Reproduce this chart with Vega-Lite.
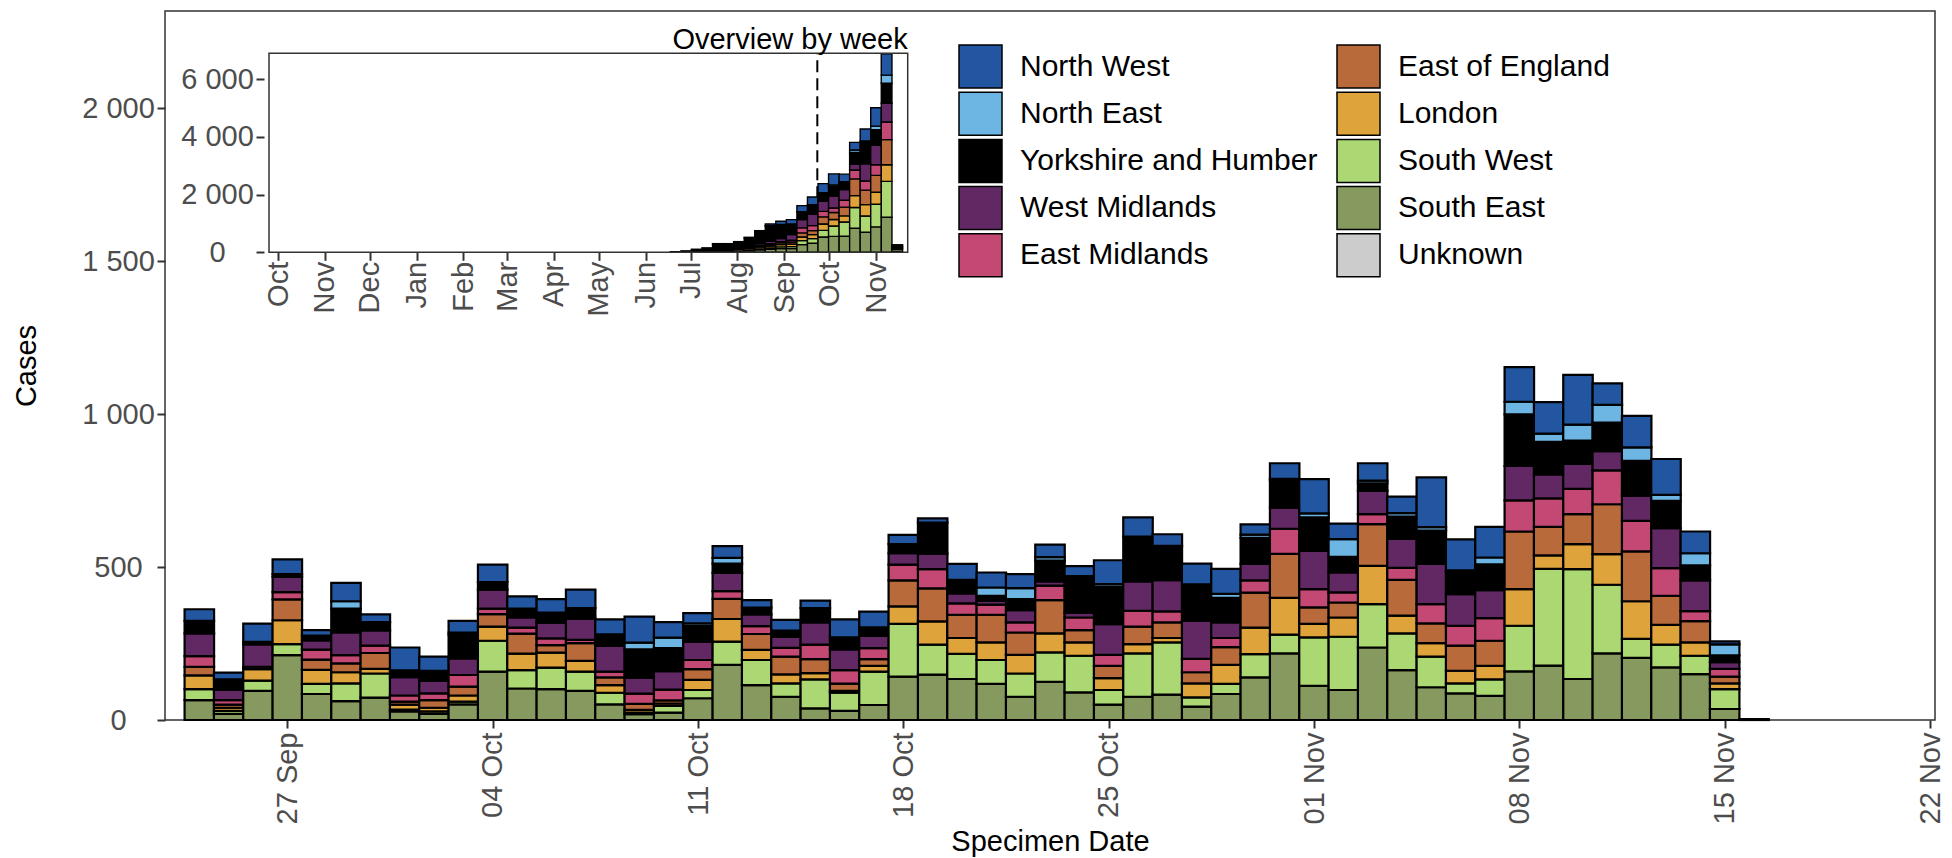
{
"$schema": "https://vega.github.io/schema/vega-lite/v6.json",
"width": 1770, "height": 709,
"autosize": {"type": "none"},
"padding": {"left": 165, "top": 11, "right": 17, "bottom": 138},
"background": "white",
"config": {
  "font": "Liberation Sans",
  "view": {"stroke": "#333333", "strokeWidth": 1.5},
  "axis": {"grid": false, "domain": false, "labelFontSize": 29, "labelColor": "#4D4D4D", "titleFontSize": 29, "titleColor": "black", "titleFontWeight": "normal", "tickColor": "#333333", "tickWidth": 2, "tickSize": 8, "labelFlush": false, "labelOverlap": false}
},
"datasets": {
"levels": [
{"region":"North West","level":1},{"region":"North East","level":2},{"region":"Yorkshire and Humber","level":3},{"region":"West Midlands","level":4},{"region":"East Midlands","level":5},{"region":"East of England","level":6},{"region":"London","level":7},{"region":"South West","level":8},{"region":"South East","level":9},{"region":"Unknown","level":10}
],
"daily": [
{"date":"2020-09-24","region":"South East","cases":65},{"date":"2020-09-24","region":"South West","cases":36},{"date":"2020-09-24","region":"London","cases":45},{"date":"2020-09-24","region":"East of England","cases":28},{"date":"2020-09-24","region":"East Midlands","cases":35},{"date":"2020-09-24","region":"West Midlands","cases":74},{"date":"2020-09-24","region":"Yorkshire and Humber","cases":41},{"date":"2020-09-24","region":"North West","cases":38},
{"date":"2020-09-25","region":"South East","cases":20},{"date":"2020-09-25","region":"South West","cases":10},{"date":"2020-09-25","region":"London","cases":10},{"date":"2020-09-25","region":"East of England","cases":10},{"date":"2020-09-25","region":"East Midlands","cases":15},{"date":"2020-09-25","region":"West Midlands","cases":33},{"date":"2020-09-25","region":"Yorkshire and Humber","cases":35},{"date":"2020-09-25","region":"North West","cases":22},
{"date":"2020-09-26","region":"South East","cases":95},{"date":"2020-09-26","region":"South West","cases":34},{"date":"2020-09-26","region":"London","cases":37},{"date":"2020-09-26","region":"East Midlands","cases":8},{"date":"2020-09-26","region":"West Midlands","cases":73},{"date":"2020-09-26","region":"Yorkshire and Humber","cases":8},{"date":"2020-09-26","region":"North West","cases":60},
{"date":"2020-09-27","region":"South East","cases":212},{"date":"2020-09-27","region":"South West","cases":36},{"date":"2020-09-27","region":"London","cases":78},{"date":"2020-09-27","region":"East of England","cases":68},{"date":"2020-09-27","region":"East Midlands","cases":24},{"date":"2020-09-27","region":"West Midlands","cases":50},{"date":"2020-09-27","region":"Yorkshire and Humber","cases":9},{"date":"2020-09-27","region":"North West","cases":48},
{"date":"2020-09-28","region":"South East","cases":85},{"date":"2020-09-28","region":"South West","cases":33},{"date":"2020-09-28","region":"London","cases":46},{"date":"2020-09-28","region":"East of England","cases":33},{"date":"2020-09-28","region":"East Midlands","cases":33},{"date":"2020-09-28","region":"West Midlands","cases":30},{"date":"2020-09-28","region":"Yorkshire and Humber","cases":16},{"date":"2020-09-28","region":"North West","cases":18},
{"date":"2020-09-29","region":"South East","cases":62},{"date":"2020-09-29","region":"South West","cases":58},{"date":"2020-09-29","region":"London","cases":36},{"date":"2020-09-29","region":"East of England","cases":29},{"date":"2020-09-29","region":"East Midlands","cases":27},{"date":"2020-09-29","region":"West Midlands","cases":74},{"date":"2020-09-29","region":"Yorkshire and Humber","cases":78},{"date":"2020-09-29","region":"North East","cases":24},{"date":"2020-09-29","region":"North West","cases":60},
{"date":"2020-09-30","region":"South East","cases":73},{"date":"2020-09-30","region":"South West","cases":79},{"date":"2020-09-30","region":"London","cases":15},{"date":"2020-09-30","region":"East of England","cases":52},{"date":"2020-09-30","region":"East Midlands","cases":24},{"date":"2020-09-30","region":"West Midlands","cases":50},{"date":"2020-09-30","region":"Yorkshire and Humber","cases":27},{"date":"2020-09-30","region":"North West","cases":25},
{"date":"2020-10-01","region":"South East","cases":28},{"date":"2020-10-01","region":"South West","cases":6},{"date":"2020-10-01","region":"London","cases":16},{"date":"2020-10-01","region":"East of England","cases":10},{"date":"2020-10-01","region":"East Midlands","cases":20},{"date":"2020-10-01","region":"West Midlands","cases":60},{"date":"2020-10-01","region":"Yorkshire and Humber","cases":22},{"date":"2020-10-01","region":"North West","cases":75},
{"date":"2020-10-02","region":"South East","cases":20},{"date":"2020-10-02","region":"South West","cases":8},{"date":"2020-10-02","region":"London","cases":12},{"date":"2020-10-02","region":"East of England","cases":25},{"date":"2020-10-02","region":"East Midlands","cases":22},{"date":"2020-10-02","region":"West Midlands","cases":41},{"date":"2020-10-02","region":"Yorkshire and Humber","cases":33},{"date":"2020-10-02","region":"North West","cases":46},
{"date":"2020-10-03","region":"South East","cases":51},{"date":"2020-10-03","region":"South West","cases":9},{"date":"2020-10-03","region":"London","cases":20},{"date":"2020-10-03","region":"East of England","cases":29},{"date":"2020-10-03","region":"East Midlands","cases":38},{"date":"2020-10-03","region":"West Midlands","cases":54},{"date":"2020-10-03","region":"Yorkshire and Humber","cases":78},{"date":"2020-10-03","region":"North East","cases":7},{"date":"2020-10-03","region":"North West","cases":38},
{"date":"2020-10-04","region":"South East","cases":158},{"date":"2020-10-04","region":"South West","cases":101},{"date":"2020-10-04","region":"London","cases":46},{"date":"2020-10-04","region":"East of England","cases":41},{"date":"2020-10-04","region":"East Midlands","cases":18},{"date":"2020-10-04","region":"West Midlands","cases":62},{"date":"2020-10-04","region":"Yorkshire and Humber","cases":25},{"date":"2020-10-04","region":"North West","cases":57},
{"date":"2020-10-05","region":"South East","cases":103},{"date":"2020-10-05","region":"South West","cases":60},{"date":"2020-10-05","region":"London","cases":54},{"date":"2020-10-05","region":"East of England","cases":65},{"date":"2020-10-05","region":"East Midlands","cases":20},{"date":"2020-10-05","region":"West Midlands","cases":33},{"date":"2020-10-05","region":"Yorkshire and Humber","cases":29},{"date":"2020-10-05","region":"North West","cases":40},
{"date":"2020-10-06","region":"South East","cases":101},{"date":"2020-10-06","region":"South West","cases":70},{"date":"2020-10-06","region":"London","cases":49},{"date":"2020-10-06","region":"East of England","cases":25},{"date":"2020-10-06","region":"East Midlands","cases":22},{"date":"2020-10-06","region":"West Midlands","cases":51},{"date":"2020-10-06","region":"Yorkshire and Humber","cases":33},{"date":"2020-10-06","region":"North West","cases":44},
{"date":"2020-10-07","region":"South East","cases":95},{"date":"2020-10-07","region":"South West","cases":63},{"date":"2020-10-07","region":"London","cases":35},{"date":"2020-10-07","region":"East of England","cases":58},{"date":"2020-10-07","region":"East Midlands","cases":11},{"date":"2020-10-07","region":"West Midlands","cases":69},{"date":"2020-10-07","region":"Yorkshire and Humber","cases":35},{"date":"2020-10-07","region":"North West","cases":60},
{"date":"2020-10-08","region":"South East","cases":51},{"date":"2020-10-08","region":"South West","cases":38},{"date":"2020-10-08","region":"London","cases":25},{"date":"2020-10-08","region":"East of England","cases":25},{"date":"2020-10-08","region":"East Midlands","cases":19},{"date":"2020-10-08","region":"West Midlands","cases":84},{"date":"2020-10-08","region":"Yorkshire and Humber","cases":38},{"date":"2020-10-08","region":"North West","cases":49},
{"date":"2020-10-09","region":"South East","cases":19},{"date":"2020-10-09","region":"South West","cases":5},{"date":"2020-10-09","region":"London","cases":9},{"date":"2020-10-09","region":"East of England","cases":20},{"date":"2020-10-09","region":"East Midlands","cases":33},{"date":"2020-10-09","region":"West Midlands","cases":52},{"date":"2020-10-09","region":"Yorkshire and Humber","cases":93},{"date":"2020-10-09","region":"North East","cases":22},{"date":"2020-10-09","region":"North West","cases":85},
{"date":"2020-10-10","region":"South East","cases":24},{"date":"2020-10-10","region":"South West","cases":22},{"date":"2020-10-10","region":"London","cases":8},{"date":"2020-10-10","region":"East of England","cases":10},{"date":"2020-10-10","region":"East Midlands","cases":35},{"date":"2020-10-10","region":"West Midlands","cases":61},{"date":"2020-10-10","region":"Yorkshire and Humber","cases":75},{"date":"2020-10-10","region":"North East","cases":34},{"date":"2020-10-10","region":"North West","cases":51},
{"date":"2020-10-11","region":"South East","cases":71},{"date":"2020-10-11","region":"South West","cases":27},{"date":"2020-10-11","region":"London","cases":33},{"date":"2020-10-11","region":"East of England","cases":35},{"date":"2020-10-11","region":"East Midlands","cases":30},{"date":"2020-10-11","region":"West Midlands","cases":60},{"date":"2020-10-11","region":"Yorkshire and Humber","cases":51},{"date":"2020-10-11","region":"North East","cases":9},{"date":"2020-10-11","region":"North West","cases":33},
{"date":"2020-10-12","region":"South East","cases":180},{"date":"2020-10-12","region":"South West","cases":76},{"date":"2020-10-12","region":"London","cases":74},{"date":"2020-10-12","region":"East of England","cases":66},{"date":"2020-10-12","region":"East Midlands","cases":25},{"date":"2020-10-12","region":"West Midlands","cases":60},{"date":"2020-10-12","region":"Yorkshire and Humber","cases":30},{"date":"2020-10-12","region":"North East","cases":19},{"date":"2020-10-12","region":"North West","cases":38},
{"date":"2020-10-13","region":"South East","cases":114},{"date":"2020-10-13","region":"South West","cases":82},{"date":"2020-10-13","region":"London","cases":33},{"date":"2020-10-13","region":"East of England","cases":52},{"date":"2020-10-13","region":"East Midlands","cases":26},{"date":"2020-10-13","region":"West Midlands","cases":38},{"date":"2020-10-13","region":"Yorkshire and Humber","cases":22},{"date":"2020-10-13","region":"North West","cases":25},
{"date":"2020-10-14","region":"South East","cases":76},{"date":"2020-10-14","region":"South West","cases":44},{"date":"2020-10-14","region":"London","cases":29},{"date":"2020-10-14","region":"East of England","cases":58},{"date":"2020-10-14","region":"East Midlands","cases":29},{"date":"2020-10-14","region":"West Midlands","cases":36},{"date":"2020-10-14","region":"Yorkshire and Humber","cases":20},{"date":"2020-10-14","region":"North West","cases":35},
{"date":"2020-10-15","region":"South East","cases":38},{"date":"2020-10-15","region":"South West","cases":95},{"date":"2020-10-15","region":"London","cases":20},{"date":"2020-10-15","region":"East of England","cases":46},{"date":"2020-10-15","region":"East Midlands","cases":47},{"date":"2020-10-15","region":"West Midlands","cases":73},{"date":"2020-10-15","region":"Yorkshire and Humber","cases":47},{"date":"2020-10-15","region":"North West","cases":24},
{"date":"2020-10-16","region":"South East","cases":30},{"date":"2020-10-16","region":"South West","cases":59},{"date":"2020-10-16","region":"London","cases":6},{"date":"2020-10-16","region":"East of England","cases":24},{"date":"2020-10-16","region":"East Midlands","cases":44},{"date":"2020-10-16","region":"West Midlands","cases":68},{"date":"2020-10-16","region":"Yorkshire and Humber","cases":39},{"date":"2020-10-16","region":"North West","cases":59},
{"date":"2020-10-17","region":"South East","cases":49},{"date":"2020-10-17","region":"South West","cases":109},{"date":"2020-10-17","region":"London","cases":19},{"date":"2020-10-17","region":"East of England","cases":22},{"date":"2020-10-17","region":"East Midlands","cases":36},{"date":"2020-10-17","region":"West Midlands","cases":40},{"date":"2020-10-17","region":"Yorkshire and Humber","cases":28},{"date":"2020-10-17","region":"North West","cases":51},
{"date":"2020-10-18","region":"South East","cases":142},{"date":"2020-10-18","region":"South West","cases":172},{"date":"2020-10-18","region":"London","cases":57},{"date":"2020-10-18","region":"East of England","cases":85},{"date":"2020-10-18","region":"East Midlands","cases":52},{"date":"2020-10-18","region":"West Midlands","cases":37},{"date":"2020-10-18","region":"Yorkshire and Humber","cases":30},{"date":"2020-10-18","region":"North West","cases":30},
{"date":"2020-10-19","region":"South East","cases":148},{"date":"2020-10-19","region":"South West","cases":98},{"date":"2020-10-19","region":"London","cases":76},{"date":"2020-10-19","region":"East of England","cases":108},{"date":"2020-10-19","region":"East Midlands","cases":63},{"date":"2020-10-19","region":"West Midlands","cases":51},{"date":"2020-10-19","region":"Yorkshire and Humber","cases":101},{"date":"2020-10-19","region":"North West","cases":14},
{"date":"2020-10-20","region":"South East","cases":134},{"date":"2020-10-20","region":"South West","cases":82},{"date":"2020-10-20","region":"London","cases":52},{"date":"2020-10-20","region":"East of England","cases":76},{"date":"2020-10-20","region":"East Midlands","cases":37},{"date":"2020-10-20","region":"West Midlands","cases":33},{"date":"2020-10-20","region":"Yorkshire and Humber","cases":44},{"date":"2020-10-20","region":"North West","cases":52},
{"date":"2020-10-21","region":"South East","cases":118},{"date":"2020-10-21","region":"South West","cases":78},{"date":"2020-10-21","region":"London","cases":58},{"date":"2020-10-21","region":"East of England","cases":90},{"date":"2020-10-21","region":"East Midlands","cases":33},{"date":"2020-10-21","region":"West Midlands","cases":13},{"date":"2020-10-21","region":"Yorkshire and Humber","cases":16},{"date":"2020-10-21","region":"North East","cases":27},{"date":"2020-10-21","region":"North West","cases":49},
{"date":"2020-10-22","region":"South East","cases":76},{"date":"2020-10-22","region":"South West","cases":76},{"date":"2020-10-22","region":"London","cases":61},{"date":"2020-10-22","region":"East of England","cases":73},{"date":"2020-10-22","region":"East Midlands","cases":33},{"date":"2020-10-22","region":"West Midlands","cases":40},{"date":"2020-10-22","region":"Yorkshire and Humber","cases":36},{"date":"2020-10-22","region":"North East","cases":36},{"date":"2020-10-22","region":"North West","cases":46},
{"date":"2020-10-23","region":"South East","cases":125},{"date":"2020-10-23","region":"South West","cases":96},{"date":"2020-10-23","region":"London","cases":62},{"date":"2020-10-23","region":"East of England","cases":109},{"date":"2020-10-23","region":"East Midlands","cases":47},{"date":"2020-10-23","region":"West Midlands","cases":14},{"date":"2020-10-23","region":"Yorkshire and Humber","cases":68},{"date":"2020-10-23","region":"North East","cases":11},{"date":"2020-10-23","region":"North West","cases":41},
{"date":"2020-10-24","region":"South East","cases":90},{"date":"2020-10-24","region":"South West","cases":120},{"date":"2020-10-24","region":"London","cases":44},{"date":"2020-10-24","region":"East of England","cases":40},{"date":"2020-10-24","region":"East Midlands","cases":41},{"date":"2020-10-24","region":"West Midlands","cases":16},{"date":"2020-10-24","region":"Yorkshire and Humber","cases":114},{"date":"2020-10-24","region":"North East","cases":5},{"date":"2020-10-24","region":"North West","cases":33},
{"date":"2020-10-25","region":"South East","cases":50},{"date":"2020-10-25","region":"South West","cases":48},{"date":"2020-10-25","region":"London","cases":39},{"date":"2020-10-25","region":"East of England","cases":40},{"date":"2020-10-25","region":"East Midlands","cases":36},{"date":"2020-10-25","region":"West Midlands","cases":100},{"date":"2020-10-25","region":"Yorkshire and Humber","cases":122},{"date":"2020-10-25","region":"North East","cases":9},{"date":"2020-10-25","region":"North West","cases":78},
{"date":"2020-10-26","region":"South East","cases":76},{"date":"2020-10-26","region":"South West","cases":142},{"date":"2020-10-26","region":"London","cases":30},{"date":"2020-10-26","region":"East of England","cases":57},{"date":"2020-10-26","region":"East Midlands","cases":52},{"date":"2020-10-26","region":"West Midlands","cases":96},{"date":"2020-10-26","region":"Yorkshire and Humber","cases":146},{"date":"2020-10-26","region":"North West","cases":63},
{"date":"2020-10-27","region":"South East","cases":83},{"date":"2020-10-27","region":"South West","cases":171},{"date":"2020-10-27","region":"London","cases":14},{"date":"2020-10-27","region":"East of England","cases":51},{"date":"2020-10-27","region":"East Midlands","cases":36},{"date":"2020-10-27","region":"West Midlands","cases":102},{"date":"2020-10-27","region":"Yorkshire and Humber","cases":112},{"date":"2020-10-27","region":"North West","cases":38},
{"date":"2020-10-28","region":"South East","cases":44},{"date":"2020-10-28","region":"South West","cases":30},{"date":"2020-10-28","region":"London","cases":46},{"date":"2020-10-28","region":"East of England","cases":36},{"date":"2020-10-28","region":"East Midlands","cases":44},{"date":"2020-10-28","region":"West Midlands","cases":125},{"date":"2020-10-28","region":"Yorkshire and Humber","cases":118},{"date":"2020-10-28","region":"North West","cases":68},
{"date":"2020-10-29","region":"South East","cases":85},{"date":"2020-10-29","region":"South West","cases":33},{"date":"2020-10-29","region":"London","cases":62},{"date":"2020-10-29","region":"East of England","cases":58},{"date":"2020-10-29","region":"East Midlands","cases":30},{"date":"2020-10-29","region":"West Midlands","cases":51},{"date":"2020-10-29","region":"Yorkshire and Humber","cases":80},{"date":"2020-10-29","region":"North East","cases":13},{"date":"2020-10-29","region":"North West","cases":82},
{"date":"2020-10-30","region":"South East","cases":139},{"date":"2020-10-30","region":"South West","cases":76},{"date":"2020-10-30","region":"London","cases":87},{"date":"2020-10-30","region":"East of England","cases":114},{"date":"2020-10-30","region":"East Midlands","cases":40},{"date":"2020-10-30","region":"West Midlands","cases":54},{"date":"2020-10-30","region":"Yorkshire and Humber","cases":85},{"date":"2020-10-30","region":"North East","cases":11},{"date":"2020-10-30","region":"North West","cases":33},
{"date":"2020-10-31","region":"South East","cases":218},{"date":"2020-10-31","region":"South West","cases":61},{"date":"2020-10-31","region":"London","cases":120},{"date":"2020-10-31","region":"East of England","cases":144},{"date":"2020-10-31","region":"East Midlands","cases":82},{"date":"2020-10-31","region":"West Midlands","cases":69},{"date":"2020-10-31","region":"Yorkshire and Humber","cases":89},{"date":"2020-10-31","region":"North East","cases":5},{"date":"2020-10-31","region":"North West","cases":51},
{"date":"2020-11-01","region":"South East","cases":112},{"date":"2020-11-01","region":"South West","cases":158},{"date":"2020-11-01","region":"London","cases":44},{"date":"2020-11-01","region":"East of England","cases":54},{"date":"2020-11-01","region":"East Midlands","cases":60},{"date":"2020-11-01","region":"West Midlands","cases":125},{"date":"2020-11-01","region":"Yorkshire and Humber","cases":109},{"date":"2020-11-01","region":"North East","cases":13},{"date":"2020-11-01","region":"North West","cases":112},
{"date":"2020-11-02","region":"South East","cases":98},{"date":"2020-11-02","region":"South West","cases":174},{"date":"2020-11-02","region":"London","cases":63},{"date":"2020-11-02","region":"East of England","cases":49},{"date":"2020-11-02","region":"East Midlands","cases":33},{"date":"2020-11-02","region":"West Midlands","cases":65},{"date":"2020-11-02","region":"Yorkshire and Humber","cases":51},{"date":"2020-11-02","region":"North East","cases":58},{"date":"2020-11-02","region":"North West","cases":51},
{"date":"2020-11-03","region":"South East","cases":237},{"date":"2020-11-03","region":"South West","cases":142},{"date":"2020-11-03","region":"London","cases":125},{"date":"2020-11-03","region":"East of England","cases":136},{"date":"2020-11-03","region":"East Midlands","cases":33},{"date":"2020-11-03","region":"West Midlands","cases":76},{"date":"2020-11-03","region":"Yorkshire and Humber","cases":24},{"date":"2020-11-03","region":"North East","cases":9},{"date":"2020-11-03","region":"North West","cases":57},
{"date":"2020-11-04","region":"South East","cases":163},{"date":"2020-11-04","region":"South West","cases":120},{"date":"2020-11-04","region":"London","cases":58},{"date":"2020-11-04","region":"East of England","cases":117},{"date":"2020-11-04","region":"East Midlands","cases":39},{"date":"2020-11-04","region":"West Midlands","cases":95},{"date":"2020-11-04","region":"Yorkshire and Humber","cases":73},{"date":"2020-11-04","region":"North East","cases":11},{"date":"2020-11-04","region":"North West","cases":54},
{"date":"2020-11-05","region":"South East","cases":107},{"date":"2020-11-05","region":"South West","cases":100},{"date":"2020-11-05","region":"London","cases":44},{"date":"2020-11-05","region":"East of England","cases":65},{"date":"2020-11-05","region":"East Midlands","cases":63},{"date":"2020-11-05","region":"West Midlands","cases":131},{"date":"2020-11-05","region":"Yorkshire and Humber","cases":109},{"date":"2020-11-05","region":"North East","cases":11},{"date":"2020-11-05","region":"North West","cases":163},
{"date":"2020-11-06","region":"South East","cases":87},{"date":"2020-11-06","region":"South West","cases":33},{"date":"2020-11-06","region":"London","cases":41},{"date":"2020-11-06","region":"East of England","cases":82},{"date":"2020-11-06","region":"East Midlands","cases":65},{"date":"2020-11-06","region":"West Midlands","cases":103},{"date":"2020-11-06","region":"Yorkshire and Humber","cases":74},{"date":"2020-11-06","region":"North East","cases":4},{"date":"2020-11-06","region":"North West","cases":101},
{"date":"2020-11-07","region":"South East","cases":79},{"date":"2020-11-07","region":"South West","cases":54},{"date":"2020-11-07","region":"London","cases":44},{"date":"2020-11-07","region":"East of England","cases":82},{"date":"2020-11-07","region":"East Midlands","cases":74},{"date":"2020-11-07","region":"West Midlands","cases":91},{"date":"2020-11-07","region":"Yorkshire and Humber","cases":85},{"date":"2020-11-07","region":"North East","cases":22},{"date":"2020-11-07","region":"North West","cases":100},
{"date":"2020-11-08","region":"South East","cases":159},{"date":"2020-11-08","region":"South West","cases":149},{"date":"2020-11-08","region":"London","cases":120},{"date":"2020-11-08","region":"East of England","cases":188},{"date":"2020-11-08","region":"East Midlands","cases":102},{"date":"2020-11-08","region":"West Midlands","cases":112},{"date":"2020-11-08","region":"Yorkshire and Humber","cases":169},{"date":"2020-11-08","region":"North East","cases":41},{"date":"2020-11-08","region":"North West","cases":113},
{"date":"2020-11-09","region":"South East","cases":178},{"date":"2020-11-09","region":"South West","cases":316},{"date":"2020-11-09","region":"London","cases":44},{"date":"2020-11-09","region":"East of England","cases":93},{"date":"2020-11-09","region":"East Midlands","cases":93},{"date":"2020-11-09","region":"West Midlands","cases":79},{"date":"2020-11-09","region":"Yorkshire and Humber","cases":106},{"date":"2020-11-09","region":"North East","cases":27},{"date":"2020-11-09","region":"North West","cases":103},
{"date":"2020-11-10","region":"South East","cases":134},{"date":"2020-11-10","region":"South West","cases":359},{"date":"2020-11-10","region":"London","cases":82},{"date":"2020-11-10","region":"East of England","cases":98},{"date":"2020-11-10","region":"East Midlands","cases":82},{"date":"2020-11-10","region":"West Midlands","cases":82},{"date":"2020-11-10","region":"Yorkshire and Humber","cases":76},{"date":"2020-11-10","region":"North East","cases":52},{"date":"2020-11-10","region":"North West","cases":163},
{"date":"2020-11-11","region":"South East","cases":218},{"date":"2020-11-11","region":"South West","cases":224},{"date":"2020-11-11","region":"London","cases":100},{"date":"2020-11-11","region":"East of England","cases":163},{"date":"2020-11-11","region":"East Midlands","cases":111},{"date":"2020-11-11","region":"West Midlands","cases":63},{"date":"2020-11-11","region":"Yorkshire and Humber","cases":93},{"date":"2020-11-11","region":"North East","cases":58},{"date":"2020-11-11","region":"North West","cases":70},
{"date":"2020-11-12","region":"South East","cases":203},{"date":"2020-11-12","region":"South West","cases":62},{"date":"2020-11-12","region":"London","cases":123},{"date":"2020-11-12","region":"East of England","cases":163},{"date":"2020-11-12","region":"East Midlands","cases":100},{"date":"2020-11-12","region":"West Midlands","cases":82},{"date":"2020-11-12","region":"Yorkshire and Humber","cases":114},{"date":"2020-11-12","region":"North East","cases":44},{"date":"2020-11-12","region":"North West","cases":103},
{"date":"2020-11-13","region":"South East","cases":172},{"date":"2020-11-13","region":"South West","cases":74},{"date":"2020-11-13","region":"London","cases":65},{"date":"2020-11-13","region":"East of England","cases":95},{"date":"2020-11-13","region":"East Midlands","cases":90},{"date":"2020-11-13","region":"West Midlands","cases":131},{"date":"2020-11-13","region":"Yorkshire and Humber","cases":89},{"date":"2020-11-13","region":"North East","cases":20},{"date":"2020-11-13","region":"North West","cases":117},
{"date":"2020-11-14","region":"South East","cases":150},{"date":"2020-11-14","region":"South West","cases":60},{"date":"2020-11-14","region":"London","cases":44},{"date":"2020-11-14","region":"East of England","cases":69},{"date":"2020-11-14","region":"East Midlands","cases":33},{"date":"2020-11-14","region":"West Midlands","cases":100},{"date":"2020-11-14","region":"Yorkshire and Humber","cases":49},{"date":"2020-11-14","region":"North East","cases":40},{"date":"2020-11-14","region":"North West","cases":71},
{"date":"2020-11-15","region":"South East","cases":36},{"date":"2020-11-15","region":"South West","cases":65},{"date":"2020-11-15","region":"London","cases":19},{"date":"2020-11-15","region":"East of England","cases":22},{"date":"2020-11-15","region":"East Midlands","cases":25},{"date":"2020-11-15","region":"West Midlands","cases":22},{"date":"2020-11-15","region":"Yorkshire and Humber","cases":22},{"date":"2020-11-15","region":"North East","cases":36},{"date":"2020-11-15","region":"North West","cases":10},
{"date":"2020-11-16","region":"South East","cases":1},{"date":"2020-11-16","region":"Yorkshire and Humber","cases":1},{"date":"2020-11-16","region":"North West","cases":1}
],
"weekly": [
{"week":"2020-06-21","region":"London","cases":5},{"week":"2020-06-21","region":"Yorkshire and Humber","cases":15},
{"week":"2020-06-28","region":"South East","cases":5},{"week":"2020-06-28","region":"London","cases":5},{"week":"2020-06-28","region":"Yorkshire and Humber","cases":40},
{"week":"2020-07-05","region":"South East","cases":5},{"week":"2020-07-05","region":"London","cases":15},{"week":"2020-07-05","region":"East of England","cases":5},{"week":"2020-07-05","region":"West Midlands","cases":5},{"week":"2020-07-05","region":"Yorkshire and Humber","cases":65},{"week":"2020-07-05","region":"North West","cases":5},
{"week":"2020-07-12","region":"South East","cases":10},{"week":"2020-07-12","region":"London","cases":20},{"week":"2020-07-12","region":"East of England","cases":10},{"week":"2020-07-12","region":"West Midlands","cases":10},{"week":"2020-07-12","region":"Yorkshire and Humber","cases":95},{"week":"2020-07-12","region":"North West","cases":5},
{"week":"2020-07-19","region":"South East","cases":15},{"week":"2020-07-19","region":"South West","cases":5},{"week":"2020-07-19","region":"London","cases":40},{"week":"2020-07-19","region":"East of England","cases":15},{"week":"2020-07-19","region":"East Midlands","cases":10},{"week":"2020-07-19","region":"West Midlands","cases":15},{"week":"2020-07-19","region":"Yorkshire and Humber","cases":190},{"week":"2020-07-19","region":"North West","cases":10},
{"week":"2020-07-26","region":"South East","cases":15},{"week":"2020-07-26","region":"South West","cases":5},{"week":"2020-07-26","region":"London","cases":45},{"week":"2020-07-26","region":"East of England","cases":15},{"week":"2020-07-26","region":"East Midlands","cases":10},{"week":"2020-07-26","region":"West Midlands","cases":15},{"week":"2020-07-26","region":"Yorkshire and Humber","cases":185},{"week":"2020-07-26","region":"North West","cases":10},
{"week":"2020-08-02","region":"South East","cases":20},{"week":"2020-08-02","region":"South West","cases":5},{"week":"2020-08-02","region":"London","cases":60},{"week":"2020-08-02","region":"East of England","cases":20},{"week":"2020-08-02","region":"East Midlands","cases":10},{"week":"2020-08-02","region":"West Midlands","cases":20},{"week":"2020-08-02","region":"Yorkshire and Humber","cases":220},{"week":"2020-08-02","region":"North West","cases":15},
{"week":"2020-08-09","region":"South East","cases":60},{"week":"2020-08-09","region":"South West","cases":10},{"week":"2020-08-09","region":"London","cases":60},{"week":"2020-08-09","region":"East of England","cases":30},{"week":"2020-08-09","region":"East Midlands","cases":10},{"week":"2020-08-09","region":"West Midlands","cases":30},{"week":"2020-08-09","region":"Yorkshire and Humber","cases":300},{"week":"2020-08-09","region":"North West","cases":20},
{"week":"2020-08-16","region":"South East","cases":90},{"week":"2020-08-16","region":"South West","cases":30},{"week":"2020-08-16","region":"London","cases":60},{"week":"2020-08-16","region":"East of England","cases":40},{"week":"2020-08-16","region":"East Midlands","cases":20},{"week":"2020-08-16","region":"West Midlands","cases":60},{"week":"2020-08-16","region":"Yorkshire and Humber","cases":420},{"week":"2020-08-16","region":"North West","cases":30},
{"week":"2020-08-23","region":"South East","cases":100},{"week":"2020-08-23","region":"South West","cases":50},{"week":"2020-08-23","region":"London","cases":70},{"week":"2020-08-23","region":"East of England","cases":50},{"week":"2020-08-23","region":"East Midlands","cases":30},{"week":"2020-08-23","region":"West Midlands","cases":80},{"week":"2020-08-23","region":"Yorkshire and Humber","cases":532},{"week":"2020-08-23","region":"North East","cases":10},{"week":"2020-08-23","region":"North West","cases":60},
{"week":"2020-08-30","region":"South East","cases":127},{"week":"2020-08-30","region":"South West","cases":60},{"week":"2020-08-30","region":"London","cases":80},{"week":"2020-08-30","region":"East of England","cases":60},{"week":"2020-08-30","region":"East Midlands","cases":40},{"week":"2020-08-30","region":"West Midlands","cases":110},{"week":"2020-08-30","region":"Yorkshire and Humber","cases":480},{"week":"2020-08-30","region":"North East","cases":10},{"week":"2020-08-30","region":"North West","cases":107},
{"week":"2020-09-06","region":"South East","cases":127},{"week":"2020-09-06","region":"South West","cases":70},{"week":"2020-09-06","region":"London","cases":90},{"week":"2020-09-06","region":"East of England","cases":70},{"week":"2020-09-06","region":"East Midlands","cases":60},{"week":"2020-09-06","region":"West Midlands","cases":200},{"week":"2020-09-06","region":"Yorkshire and Humber","cases":350},{"week":"2020-09-06","region":"North East","cases":15},{"week":"2020-09-06","region":"North West","cases":150},
{"week":"2020-09-13","region":"South East","cases":265},{"week":"2020-09-13","region":"South West","cases":140},{"week":"2020-09-13","region":"London","cases":127},{"week":"2020-09-13","region":"East of England","cases":140},{"week":"2020-09-13","region":"East Midlands","cases":173},{"week":"2020-09-13","region":"West Midlands","cases":290},{"week":"2020-09-13","region":"Yorkshire and Humber","cases":254},{"week":"2020-09-13","region":"North East","cases":20},{"week":"2020-09-13","region":"North West","cases":208},
{"week":"2020-09-20","region":"South East","cases":312},{"week":"2020-09-20","region":"South West","cases":162},{"week":"2020-09-20","region":"London","cases":139},{"week":"2020-09-20","region":"East of England","cases":139},{"week":"2020-09-20","region":"East Midlands","cases":173},{"week":"2020-09-20","region":"West Midlands","cases":404},{"week":"2020-09-20","region":"Yorkshire and Humber","cases":300},{"week":"2020-09-20","region":"North East","cases":23},{"week":"2020-09-20","region":"North West","cases":266},
{"week":"2020-09-27","region":"South East","cases":531},{"week":"2020-09-27","region":"South West","cases":229},{"week":"2020-09-27","region":"London","cases":223},{"week":"2020-09-27","region":"East of England","cases":246},{"week":"2020-09-27","region":"East Midlands","cases":188},{"week":"2020-09-27","region":"West Midlands","cases":359},{"week":"2020-09-27","region":"Yorkshire and Humber","cases":263},{"week":"2020-09-27","region":"North East","cases":31},{"week":"2020-09-27","region":"North West","cases":310},
{"week":"2020-10-04","region":"South East","cases":551},{"week":"2020-10-04","region":"South West","cases":359},{"week":"2020-10-04","region":"London","cases":226},{"week":"2020-10-04","region":"East of England","cases":244},{"week":"2020-10-04","region":"East Midlands","cases":158},{"week":"2020-10-04","region":"West Midlands","cases":412},{"week":"2020-10-04","region":"Yorkshire and Humber","cases":328},{"week":"2020-10-04","region":"North East","cases":56},{"week":"2020-10-04","region":"North West","cases":386},
{"week":"2020-10-11","region":"South East","cases":558},{"week":"2020-10-11","region":"South West","cases":492},{"week":"2020-10-11","region":"London","cases":214},{"week":"2020-10-11","region":"East of England","cases":303},{"week":"2020-10-11","region":"East Midlands","cases":237},{"week":"2020-10-11","region":"West Midlands","cases":375},{"week":"2020-10-11","region":"Yorkshire and Humber","cases":237},{"week":"2020-10-11","region":"North East","cases":28},{"week":"2020-10-11","region":"North West","cases":265},
{"week":"2020-10-18","region":"South East","cases":833},{"week":"2020-10-18","region":"South West","cases":722},{"week":"2020-10-18","region":"London","cases":410},{"week":"2020-10-18","region":"East of England","cases":581},{"week":"2020-10-18","region":"East Midlands","cases":306},{"week":"2020-10-18","region":"West Midlands","cases":204},{"week":"2020-10-18","region":"Yorkshire and Humber","cases":409},{"week":"2020-10-18","region":"North East","cases":79},{"week":"2020-10-18","region":"North West","cases":265},
{"week":"2020-10-25","region":"South East","cases":695},{"week":"2020-10-25","region":"South West","cases":561},{"week":"2020-10-25","region":"London","cases":398},{"week":"2020-10-25","region":"East of England","cases":500},{"week":"2020-10-25","region":"East Midlands","cases":320},{"week":"2020-10-25","region":"West Midlands","cases":597},{"week":"2020-10-25","region":"Yorkshire and Humber","cases":752},{"week":"2020-10-25","region":"North East","cases":38},{"week":"2020-10-25","region":"North West","cases":413},
{"week":"2020-11-01","region":"South East","cases":883},{"week":"2020-11-01","region":"South West","cases":781},{"week":"2020-11-01","region":"London","cases":419},{"week":"2020-11-01","region":"East of England","cases":585},{"week":"2020-11-01","region":"East Midlands","cases":367},{"week":"2020-11-01","region":"West Midlands","cases":686},{"week":"2020-11-01","region":"Yorkshire and Humber","cases":525},{"week":"2020-11-01","region":"North East","cases":128},{"week":"2020-11-01","region":"North West","cases":638},
{"week":"2020-11-08","region":"South East","cases":1214},{"week":"2020-11-08","region":"South West","cases":1244},{"week":"2020-11-08","region":"London","cases":578},{"week":"2020-11-08","region":"East of England","cases":869},{"week":"2020-11-08","region":"East Midlands","cases":611},{"week":"2020-11-08","region":"West Midlands","cases":649},{"week":"2020-11-08","region":"Yorkshire and Humber","cases":696},{"week":"2020-11-08","region":"North East","cases":282},{"week":"2020-11-08","region":"North West","cases":740},
{"week":"2020-11-15","region":"South East","cases":37},{"week":"2020-11-15","region":"South West","cases":65},{"week":"2020-11-15","region":"London","cases":19},{"week":"2020-11-15","region":"East of England","cases":22},{"week":"2020-11-15","region":"East Midlands","cases":25},{"week":"2020-11-15","region":"West Midlands","cases":22},{"week":"2020-11-15","region":"Yorkshire and Humber","cases":23},{"week":"2020-11-15","region":"North East","cases":36},{"week":"2020-11-15","region":"North West","cases":11}
]
},
"layer": [
{
  "data": {"name": "daily"},
  "transform": [{"lookup": "region", "from": {"data": {"name": "levels"}, "key": "region", "fields": ["level"]}}],
  "mark": {"type": "bar", "width": 29.5, "stroke": "black", "strokeWidth": 2.2},
  "encoding": {
    "x": {"field": "date", "type": "temporal", "title": "Specimen Date",
      "scale": {"type": "utc", "nice": false, "domain": [{"year": 2020, "month": "Sep", "date": 23, "utc": true}, {"year": 2020, "month": "Nov", "date": 22, "utc": true}]},
      "axis": {"orient": "bottom", "labelExpr": "utcFormat(datum.value, '%d %b')", "labelAngle": -90, "labelPadding": 4,
        "values": [{"year": 2020, "month": "Sep", "date": 27, "utc": true}, {"year": 2020, "month": "Oct", "date": 4, "utc": true}, {"year": 2020, "month": "Oct", "date": 11, "utc": true}, {"year": 2020, "month": "Oct", "date": 18, "utc": true}, {"year": 2020, "month": "Oct", "date": 25, "utc": true}, {"year": 2020, "month": "Nov", "date": 1, "utc": true}, {"year": 2020, "month": "Nov", "date": 8, "utc": true}, {"year": 2020, "month": "Nov", "date": 15, "utc": true}, {"year": 2020, "month": "Nov", "date": 22, "utc": true}],
        "titleX": 885, "titleY": 130, "titleBaseline": "alphabetic", "titleAlign": "center"}},
    "y": {"field": "cases", "type": "quantitative", "stack": "zero", "title": "Cases",
      "scale": {"domain": [0, 2317], "nice": false, "zero": true},
      "axis": {"orient": "left", "values": [0, 500, 1000, 1500, 2000], "labelExpr": "replace(format(datum.value, ','), ',', ' ')", "labelAlign": "center", "labelPadding": 39,
        "titleX": -130, "titleY": 354.5, "titleBaseline": "alphabetic", "titleAngle": -90, "titleAlign": "center"}},
    "color": {"field": "region", "type": "nominal",
      "scale": {"domain": ["North West", "North East", "Yorkshire and Humber", "West Midlands", "East Midlands", "East of England", "London", "South West", "South East", "Unknown"],
                "range": ["#2356A0", "#6DB6E4", "#000000", "#612864", "#C44874", "#B86A3A", "#DEA33A", "#ABD873", "#86995E", "#CCCCCC"]},
      "legend": {"orient": "none", "legendX": 793, "legendY": 33, "columns": 2, "title": null, "padding": 0,
        "symbolType": "square", "symbolSize": 1849, "symbolStrokeColor": "black", "symbolStrokeWidth": 1.5, "symbolOpacity": 1,
        "labelFontSize": 30, "labelColor": "black", "labelOffset": 17, "labelLimit": 0, "rowPadding": -1.8, "columnPadding": 16}},
    "order": {"field": "level", "type": "quantitative", "sort": "descending"}
  }
},
{
  "layer": [
    {
      "data": {"values": [{}]},
      "mark": {"type": "rule", "strokeDash": [12, 6], "strokeWidth": 2, "color": "black"},
      "encoding": {
        "x": {"datum": {"year": 2020, "month": "Sep", "date": 23, "utc": true}, "type": "temporal", "title": null,
          "scale": {"type": "utc", "nice": false, "domain": [{"year": 2019, "month": "Sep", "date": 25, "utc": true}, {"year": 2020, "month": "Nov", "date": 22, "utc": true}], "range": [99, 747.7]},
          "axis": {"orient": "bottom", "offset": -467.7, "labelExpr": "utcFormat(datum.value, '%b')", "labelAngle": -90, "labelPadding": 1, "title": null,
            "values": [{"year": 2019, "month": "Oct", "date": 1, "utc": true}, {"year": 2019, "month": "Nov", "date": 1, "utc": true}, {"year": 2019, "month": "Dec", "date": 1, "utc": true}, {"year": 2020, "month": "Jan", "date": 1, "utc": true}, {"year": 2020, "month": "Feb", "date": 1, "utc": true}, {"year": 2020, "month": "Mar", "date": 1, "utc": true}, {"year": 2020, "month": "Apr", "date": 1, "utc": true}, {"year": 2020, "month": "May", "date": 1, "utc": true}, {"year": 2020, "month": "Jun", "date": 1, "utc": true}, {"year": 2020, "month": "Jul", "date": 1, "utc": true}, {"year": 2020, "month": "Aug", "date": 1, "utc": true}, {"year": 2020, "month": "Sep", "date": 1, "utc": true}, {"year": 2020, "month": "Oct", "date": 1, "utc": true}, {"year": 2020, "month": "Nov", "date": 1, "utc": true}]}},
        "y": {"datum": 0, "type": "quantitative", "title": null,
          "scale": {"domain": [0, 6898], "range": [241.3, 42.3], "nice": false, "zero": true},
          "axis": {"orient": "left", "offset": -99, "values": [0, 2000, 4000, 6000], "labelExpr": "replace(format(datum.value, ','), ',', ' ')", "labelAlign": "center", "labelPadding": 39, "title": null}},
        "y2": {"datum": 6898}
      }
    },
    {
      "data": {"name": "weekly"},
      "transform": [{"lookup": "region", "from": {"data": {"name": "levels"}, "key": "region", "fields": ["level"]}}],
      "mark": {"type": "bar", "width": 10.7, "stroke": "black", "strokeWidth": 1.4},
      "encoding": {
        "x": {"field": "week", "type": "temporal", "title": null},
        "y": {"field": "cases", "type": "quantitative", "stack": "zero", "title": null},
        "color": {"field": "region", "type": "nominal"},
        "order": {"field": "level", "type": "quantitative", "sort": "descending"}
      }
    },
    {
      "data": {"values": [{}]},
      "mark": {"type": "rect", "fill": "transparent", "stroke": "#333333", "strokeWidth": 1.5},
      "encoding": {
        "x": {"datum": {"year": 2019, "month": "Sep", "date": 25, "utc": true}, "type": "temporal", "title": null},
        "x2": {"datum": {"year": 2020, "month": "Nov", "date": 22, "utc": true}},
        "y": {"datum": 0, "type": "quantitative", "title": null},
        "y2": {"datum": 6898}
      }
    },
    {
      "data": {"values": [{}]},
      "mark": {"type": "text", "align": "right", "baseline": "alphabetic", "dy": -4, "fontSize": 29, "color": "black"},
      "encoding": {
        "x": {"datum": {"year": 2020, "month": "Nov", "date": 22, "utc": true}, "type": "temporal", "title": null},
        "y": {"datum": 6898, "type": "quantitative", "title": null},
        "text": {"value": "Overview by week"}
      }
    }
  ]
}
],
"resolve": {"scale": {"x": "independent", "y": "independent"}, "axis": {"x": "independent", "y": "independent"}}
}
